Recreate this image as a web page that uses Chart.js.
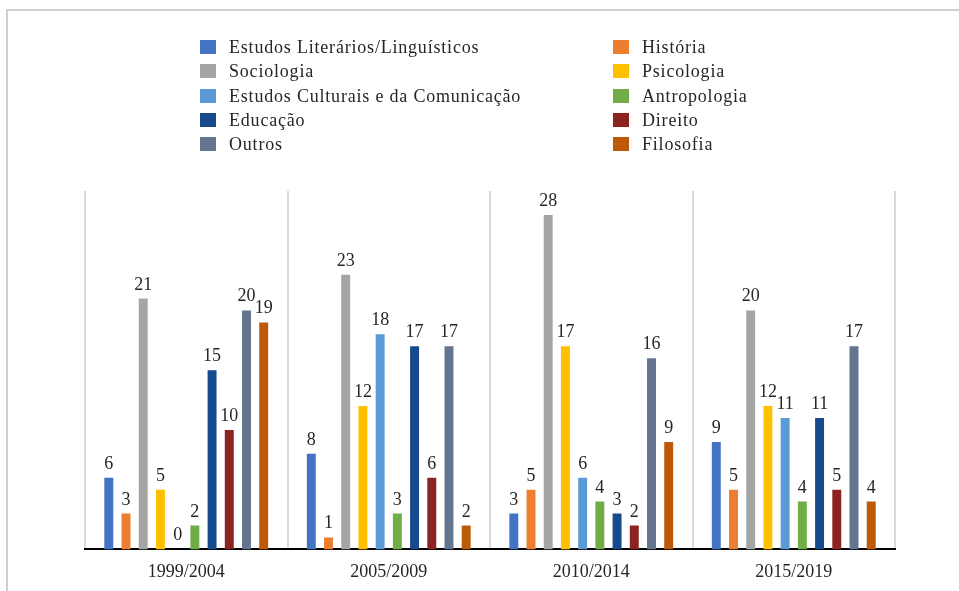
<!DOCTYPE html>
<html lang="pt">
<head>
<meta charset="utf-8">
<script src="https://cdn.jsdelivr.net/npm/chart.js@4.4.1/dist/chart.umd.min.js"></script>
<style>
  html, body { margin: 0; padding: 0; background: #fff; }
  #wrap { position: relative; width: 959px; height: 591px; overflow: hidden; }
  #frame {
    position: absolute; left: 6px; top: 9px; width: 1000px; height: 700px;
    border-top: 2px solid #cfcfcf; border-left: 2px solid #cfcfcf;
  }
  #chart { position: absolute; left: 0; top: 0; }
  .lg-item {
    position: absolute; height: 20px; line-height: 20px;
    font-family: "Liberation Serif", serif; font-size: 18px; color: #262626;
    letter-spacing: 0.8px; white-space: nowrap;
  }
  .lg-box { position: absolute; left: 0; top: 3px; width: 16px; height: 14px; }
  .lg-text { position: absolute; left: 29px; top: 0; }
</style>
</head>
<body>
<div id="wrap">
  <div id="frame"></div>
  <canvas id="chart" width="959" height="601"></canvas>
  <div id="legend"></div>
</div>
<script>
  // categorias (períodos)
  const periods = ["1999/2004", "2005/2009", "2010/2014", "2015/2019"];

  // áreas, na ordem das barras
  const areas = [
    "Estudos Literários/Linguísticos",
    "História",
    "Sociologia",
    "Psicologia",
    "Estudos Culturais e da Comunicação",
    "Antropologia",
    "Educação",
    "Direito",
    "Outros",
    "Filosofia",
  ];

  const colors = [
    "#4472C4", "#ED7D31", "#A5A5A5", "#FFC000", "#5B9BD5",
    "#70AD47", "#174A8C", "#8B2320", "#647590", "#BC5A0A",
  ];

  // valores por área (um valor por período)
  const estudosLiterarios = [6, 8, 3, 9];
  const historia = [3, 1, 5, 5];
  const sociologia = [21, 23, 28, 20];
  const psicologia = [5, 12, 17, 12];
  const estudosCulturais = [0, 18, 6, 11];
  const antropologia = [2, 3, 4, 4];
  const educacao = [15, 17, 3, 11];
  const direito = [10, 6, 2, 5];
  const outros = [20, 17, 16, 17];
  const filosofia = [19, 2, 9, 4];

  const seriesValues = [
    estudosLiterarios, historia, sociologia, psicologia, estudosCulturais,
    antropologia, educacao, direito, outros, filosofia,
  ];

  const FONT = "Liberation Serif";

  function buildLegend() {
    const box = document.getElementById("legend");
    areas.forEach((name, i) => {
      const col = i % 2;
      const row = Math.floor(i / 2);
      const item = document.createElement("div");
      item.className = "lg-item";
      item.style.left = (col === 0 ? 200 : 613) + "px";
      item.style.top = (37 + row * 24.3) + "px";
      item.innerHTML =
        '<span class="lg-box" style="background:' + colors[i] + '"></span>' +
        '<span class="lg-text">' + name + "</span>";
      box.appendChild(item);
    });
  }

  // rótulos de valor acima das barras
  const valueLabels = {
    id: "valueLabels",
    afterDatasetsDraw(chart) {
      const ctx = chart.ctx;
      ctx.save();
      ctx.font = "18px '" + FONT + "'";
      ctx.fillStyle = "#262626";
      ctx.textAlign = "center";
      ctx.textBaseline = "alphabetic";
      chart.data.datasets.forEach((ds, i) => {
        chart.getDatasetMeta(i).data.forEach((bar, j) => {
          ctx.fillText(String(ds.data[j]), bar.x, bar.y - 9);
        });
      });
      ctx.restore();
    },
  };

  buildLegend();

  new Chart(document.getElementById("chart").getContext("2d"), {
    type: "bar",
    data: {
      labels: periods,
      datasets: areas.map((name, i) => ({
        label: name,
        data: seriesValues[i],
        backgroundColor: colors[i],
        borderWidth: 0,
        categoryPercentage: 0.85,
        barPercentage: 0.52,
      })),
    },
    options: {
      responsive: false,
      animation: false,
      layout: { padding: { left: 85, right: 64, top: 191, bottom: 6 } },
      plugins: {
        legend: { display: false },
        tooltip: { enabled: false },
      },
      scales: {
        x: {
          grid: { color: "#d9d9d9", lineWidth: 2, drawTicks: false },
          border: { display: true, color: "#000", width: 2 },
          ticks: { color: "#262626", font: { family: FONT, size: 18 }, padding: 12 },
        },
        y: { display: false, min: 0, max: 30 },
      },
    },
    plugins: [valueLabels],
  });
</script>
</body>
</html>
